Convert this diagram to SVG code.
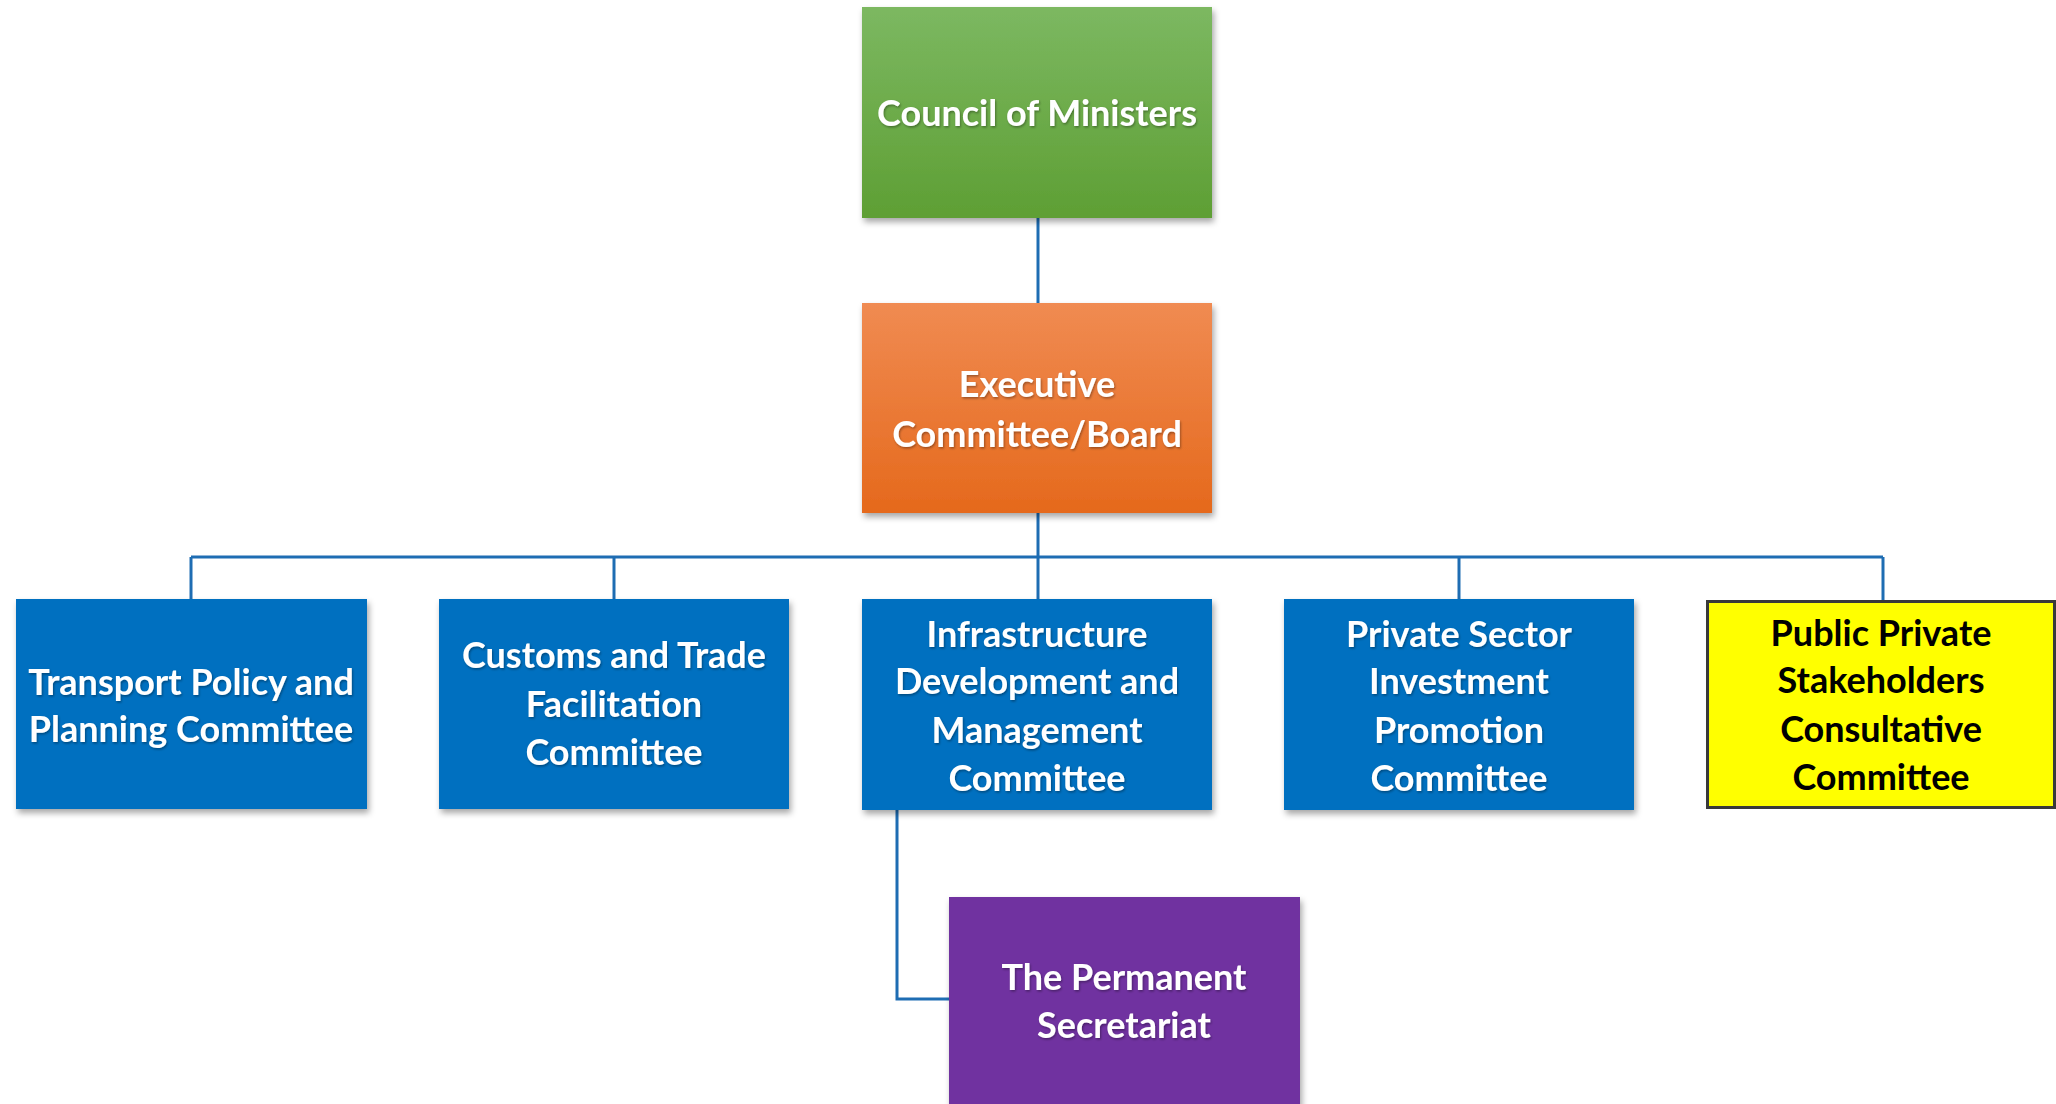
<svg xmlns="http://www.w3.org/2000/svg" width="2056" height="1104" viewBox="0 0 2056 1104">
  <defs>
    <linearGradient id="gGreen" x1="0" y1="0" x2="0" y2="1">
      <stop offset="0" stop-color="#7cb861"/>
      <stop offset="1" stop-color="#5e9f34"/>
    </linearGradient>
    <linearGradient id="gOrange" x1="0" y1="0" x2="0" y2="1">
      <stop offset="0" stop-color="#f08b52"/>
      <stop offset="1" stop-color="#e5691c"/>
    </linearGradient>
    <filter id="boxShadow" x="-10%" y="-10%" width="125%" height="130%">
      <feDropShadow dx="2" dy="4" stdDeviation="3" flood-color="#000" flood-opacity="0.35"/>
    </filter>
    <filter id="textShadow" x="-5%" y="-20%" width="110%" height="140%">
      <feDropShadow dx="1" dy="1.5" stdDeviation="1" flood-color="#000" flood-opacity="0.35"/>
    </filter>
  </defs>
  <style>
    .lbl { font-family: Lato, "Open Sans", "Liberation Sans", sans-serif; font-weight: bold; font-size: 36px; text-anchor: middle; }
    .wt { fill: #ffffff; filter: url(#textShadow); }
    .bk { fill: #000000; }
    .blue { fill: #0070c0; filter: url(#boxShadow); }
    .conn { fill: none; stroke: #1e6db3; stroke-width: 3; }
  </style>

  <rect x="0" y="0" width="2056" height="1104" fill="#ffffff"/>

  <!-- connectors -->
  <g id="connectors">
    <line class="conn" x1="1038" y1="218" x2="1038" y2="303"/>
    <line class="conn" x1="1038" y1="513" x2="1038" y2="599"/>
    <line class="conn" x1="191" y1="557" x2="1883" y2="557"/>
    <line class="conn" x1="191" y1="557" x2="191" y2="599"/>
    <line class="conn" x1="614" y1="557" x2="614" y2="599"/>
    <line class="conn" x1="1459" y1="557" x2="1459" y2="599"/>
    <line class="conn" x1="1883" y1="557" x2="1883" y2="600"/>
    <polyline class="conn" points="897,810 897,999 949,999"/>
  </g>

  <g id="council">
    <rect x="862" y="7" width="350" height="211" fill="url(#gGreen)" filter="url(#boxShadow)"/>
    <text class="lbl wt" x="1037" y="126">Council of Ministers</text>
  </g>

  <g id="executive">
    <rect x="862" y="303" width="350" height="210" fill="url(#gOrange)" filter="url(#boxShadow)"/>
    <text class="lbl wt" x="1037" y="397">Executive</text>
    <text class="lbl wt" x="1037" y="447">Committee/Board</text>
  </g>

  <g id="transport">
    <rect class="blue" x="16" y="599" width="351" height="210"/>
    <text class="lbl wt" x="191" y="695">Transport Policy and</text>
    <text class="lbl wt" x="191" y="742">Planning Committee</text>
  </g>

  <g id="customs">
    <rect class="blue" x="439" y="599" width="350" height="210"/>
    <text class="lbl wt" x="614" y="668">Customs and Trade</text>
    <text class="lbl wt" x="614" y="717">Facilitation</text>
    <text class="lbl wt" x="614" y="765">Committee</text>
  </g>

  <g id="infrastructure">
    <rect class="blue" x="862" y="599" width="350" height="211"/>
    <text class="lbl wt" x="1037" y="647">Infrastructure</text>
    <text class="lbl wt" x="1037" y="694">Development and</text>
    <text class="lbl wt" x="1037" y="743">Management</text>
    <text class="lbl wt" x="1037" y="791">Committee</text>
  </g>

  <g id="private-sector">
    <rect class="blue" x="1284" y="599" width="350" height="211"/>
    <text class="lbl wt" x="1459" y="647">Private Sector</text>
    <text class="lbl wt" x="1459" y="694">Investment</text>
    <text class="lbl wt" x="1459" y="743">Promotion</text>
    <text class="lbl wt" x="1459" y="791">Committee</text>
  </g>

  <g id="public-private">
    <rect x="1707.5" y="601.5" width="347" height="206" fill="#ffff00" stroke="#3a3a3a" stroke-width="3"/>
    <text class="lbl bk" x="1881" y="646">Public Private</text>
    <text class="lbl bk" x="1881" y="693">Stakeholders</text>
    <text class="lbl bk" x="1881" y="742">Consultative</text>
    <text class="lbl bk" x="1881" y="790">Committee</text>
  </g>

  <g id="secretariat">
    <rect x="949" y="897" width="351" height="220" fill="#7030a0" filter="url(#boxShadow)"/>
    <text class="lbl wt" x="1124" y="990">The Permanent</text>
    <text class="lbl wt" x="1124" y="1038">Secretariat</text>
  </g>
</svg>
